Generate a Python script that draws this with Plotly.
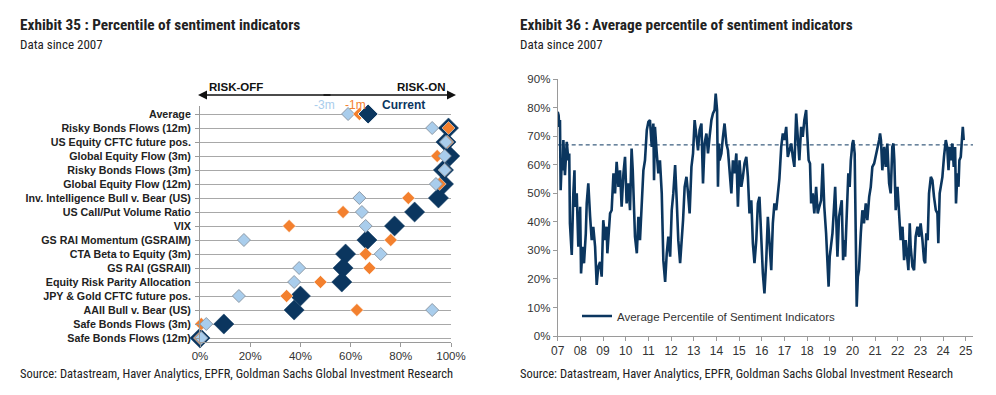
import plotly.graph_objects as go

W, H = 996, 395


def px(x):
    return x / W


def py(y):
    return 1 - y / H


# ---------------- Exhibit 35 data ----------------
categories = [
    "Average",
    "Risky Bonds Flows (12m)",
    "US Equity CFTC future pos.",
    "Global Equity Flow (3m)",
    "Risky Bonds Flows (3m)",
    "Global Equity Flow (12m)",
    "Inv. Intelligence Bull v. Bear (US)",
    "US Call/Put Volume Ratio",
    "VIX",
    "GS RAI Momentum (GSRAIM)",
    "CTA Beta to Equity (3m)",
    "GS RAI (GSRAII)",
    "Equity Risk Parity Allocation",
    "JPY & Gold CFTC future pos.",
    "AAII Bull v. Bear (US)",
    "Safe Bonds Flows (3m)",
    "Safe Bonds Flows (12m)",
]
current = [67, 99, 98, 99.5, 97, 97, 95, 85.5, 77.5, 66.5, 58, 57, 56.5, 40, 37.5, 9.5, 0]
minus_1m = [63.5, 99, 98.5, 94.5, 97.5, 95.5, 83, 57, 35.5, 76, 66, 67.5, 48, 34.5, 62.5, 0.5, 0]
minus_3m = [59, 92.5, 98, 97.5, 97.5, 94, 63.5, 64.5, 66, 17.5, 72, 39.5, 37.5, 15.5, 92.5, 2.5, 0.5]
x_ticks_35 = [0, 20, 40, 60, 80, 100]
x_ticktext_35 = ["0%", "20%", "40%", "60%", "80%", "100%"]

# ---------------- Exhibit 36 data ----------------
years = [
    2007.00, 2007.04, 2007.07, 2007.10, 2007.13, 2007.18, 2007.22, 2007.25, 2007.32, 2007.40,
    2007.47, 2007.51, 2007.54, 2007.62, 2007.69, 2007.74, 2007.76, 2007.84, 2007.91, 2007.99,
    2008.03, 2008.10, 2008.16, 2008.24, 2008.28, 2008.35, 2008.43, 2008.50, 2008.57, 2008.65,
    2008.72, 2008.79, 2008.87, 2008.94, 2009.01, 2009.09, 2009.16, 2009.19, 2009.31, 2009.38,
    2009.46, 2009.53, 2009.60, 2009.68, 2009.75, 2009.82, 2009.90, 2009.97, 2010.04, 2010.12,
    2010.19, 2010.26, 2010.31, 2010.37, 2010.41, 2010.49, 2010.56, 2010.63, 2010.71, 2010.78,
    2010.85, 2010.93, 2011.00, 2011.07, 2011.15, 2011.22, 2011.25, 2011.29, 2011.37, 2011.44,
    2011.51, 2011.59, 2011.66, 2011.74, 2011.81, 2011.88, 2011.96, 2012.03, 2012.10, 2012.18,
    2012.25, 2012.32, 2012.40, 2012.46, 2012.53, 2012.60, 2012.68, 2012.75, 2012.82, 2012.90,
    2012.97, 2013.04, 2013.12, 2013.19, 2013.26, 2013.34, 2013.41, 2013.48, 2013.56, 2013.63,
    2013.70, 2013.78, 2013.85, 2013.92, 2013.97, 2014.03, 2014.07, 2014.11, 2014.14, 2014.22,
    2014.29, 2014.36, 2014.44, 2014.51, 2014.58, 2014.66, 2014.73, 2014.80, 2014.88, 2014.95,
    2015.02, 2015.10, 2015.17, 2015.24, 2015.32, 2015.39, 2015.46, 2015.54, 2015.61, 2015.68,
    2015.76, 2015.83, 2015.90, 2015.98, 2016.05, 2016.12, 2016.20, 2016.27, 2016.34, 2016.42,
    2016.49, 2016.56, 2016.64, 2016.71, 2016.78, 2016.86, 2016.93, 2017.00, 2017.08, 2017.15,
    2017.22, 2017.30, 2017.37, 2017.44, 2017.52, 2017.59, 2017.66, 2017.74, 2017.81, 2017.88,
    2017.96, 2017.99, 2018.07, 2018.13, 2018.18, 2018.25, 2018.32, 2018.40, 2018.47, 2018.54,
    2018.62, 2018.69, 2018.76, 2018.84, 2018.91, 2018.95, 2019.00, 2019.04, 2019.12, 2019.19,
    2019.24, 2019.29, 2019.34, 2019.41, 2019.49, 2019.53, 2019.59, 2019.63, 2019.68, 2019.74,
    2019.78, 2019.82, 2019.88, 2019.93, 2020.00, 2020.04, 2020.10, 2020.15, 2020.19, 2020.24,
    2020.29, 2020.37, 2020.44, 2020.51, 2020.59, 2020.66, 2020.74, 2020.81, 2020.88, 2020.96,
    2021.03, 2021.10, 2021.18, 2021.22, 2021.26, 2021.32, 2021.40, 2021.47, 2021.54, 2021.62,
    2021.69, 2021.76, 2021.81, 2021.85, 2021.91, 2021.99, 2022.06, 2022.13, 2022.21, 2022.28,
    2022.35, 2022.43, 2022.47, 2022.53, 2022.57, 2022.65, 2022.72, 2022.79, 2022.87, 2022.94,
    2023.01, 2023.09, 2023.16, 2023.21, 2023.26, 2023.32, 2023.38, 2023.46, 2023.53, 2023.60,
    2023.68, 2023.75, 2023.79, 2023.85, 2023.91, 2023.97, 2024.04, 2024.12, 2024.18, 2024.24,
    2024.29, 2024.34, 2024.41, 2024.47, 2024.53, 2024.57, 2024.63, 2024.68, 2024.72, 2024.78,
    2024.82, 2024.87, 2024.91,
]
avg_pct = [
    78.6, 77.4, 73.3, 75.7, 51.1, 61.6, 58.1, 68.7, 56.4, 68.1,
    61.6, 64.0, 39.5, 28.4, 50.0, 58.1, 45.3, 50.0, 31.3, 45.3,
    21.9, 31.3, 25.5, 36.0, 46.5, 53.5, 41.8, 33.6, 38.3, 31.3,
    17.9, 24.3, 26.0, 20.8, 40.6, 33.6, 38.3, 29.0, 43.0, 44.1,
    57.0, 50.0, 61.1, 52.3, 58.1, 45.3, 57.0, 62.8, 46.5, 53.5,
    44.1, 65.7, 58.1, 40.6, 34.8, 29.0, 41.8, 33.6, 50.0, 58.1,
    61.6, 72.2, 75.1, 75.7, 66.3, 74.5, 54.6, 73.3, 64.0, 57.0,
    61.6, 50.0, 26.6, 19.0, 29.0, 34.8, 27.8, 44.1, 50.0, 59.9,
    47.6, 33.6, 25.5, 31.3, 40.6, 52.3, 55.8, 50.0, 43.0, 59.3,
    64.0, 75.7, 69.8, 65.1, 72.2, 74.5, 53.5, 67.5, 71.0, 64.0,
    69.8, 75.7, 78.0, 79.2, 85.0, 79.2, 52.3, 67.5, 61.6, 64.0,
    69.8, 74.5, 67.5, 65.1, 58.1, 50.0, 61.6, 57.0, 64.0, 45.3,
    61.6, 52.3, 55.8, 60.5, 62.8, 55.8, 43.0, 47.6, 32.5, 25.5,
    33.6, 46.5, 48.8, 33.6, 21.9, 14.9, 26.6, 41.8, 31.3, 23.1,
    39.5, 46.5, 44.1, 48.8, 55.2, 66.3, 71.0, 68.7, 73.3, 62.8,
    65.1, 67.5, 62.8, 59.3, 78.0, 68.7, 61.6, 73.3, 69.8, 75.7,
    79.2, 73.3, 61.6, 60.5, 46.5, 50.0, 43.0, 52.3, 43.0, 45.3,
    47.6, 60.5, 45.3, 36.0, 24.3, 17.3, 27.8, 31.3, 36.0, 45.3,
    52.3, 40.6, 27.8, 41.8, 45.3, 47.6, 26.6, 33.6, 27.8, 44.1,
    52.3, 57.0, 52.3, 61.6, 67.5, 68.7, 64.0, 26.6, 10.3, 20.8,
    23.1, 36.0, 44.1, 39.5, 46.5, 40.6, 48.8, 52.3, 59.3, 60.5,
    62.8, 65.1, 68.7, 71.0, 68.7, 58.1, 66.3, 59.3, 67.5, 53.5,
    50.0, 66.3, 67.5, 61.6, 44.1, 52.3, 43.0, 33.6, 38.3, 26.6,
    33.6, 25.5, 23.1, 39.5, 31.3, 24.3, 23.1, 34.8, 38.3, 34.8,
    39.5, 33.6, 26.6, 25.5, 36.0, 33.6, 50.0, 55.8, 54.6, 48.8,
    44.1, 43.0, 32.5, 50.0, 53.5, 55.8, 62.8, 68.7, 66.3, 58.1,
    66.3, 61.6, 67.5, 59.3, 66.3, 46.5, 57.0, 52.3, 61.6, 62.8,
    67.5, 73.3, 68.7,
]
threshold = 67
year_ticks = list(range(2007, 2026))
year_ticktext = ["%02d" % (y % 100) for y in year_ticks]
pct_ticks = list(range(0, 91, 10))
pct_ticktext = ["%d%%" % v for v in pct_ticks]

# ---------------- styles ----------------
NAVY = "#0b365f"
ORANGE = "#f3802e"
LIGHT = "#a9cdec"
LIGHT_EDGE = "#8f9ba8"
AXIS = "#9a9a9a"
GRID = "#a8a8a8"
TXT = "#222222"
NARROW = "Liberation Sans Narrow, Roboto Condensed, DejaVu Sans Condensed, Liberation Sans, sans-serif"
ARIAL = "Liberation Sans, Arial, sans-serif"

fig = go.Figure()

rows = list(range(len(categories)))
ind = rows[1:]


def diamonds(xs, ys, size, color, edge, edge_w):
    fig.add_trace(go.Scatter(
        x=xs, y=ys, mode="markers", xaxis="x", yaxis="y", showlegend=False, cliponaxis=False,
        marker=dict(symbol="diamond", size=size, color=color, line=dict(color=edge, width=edge_w)),
        hoverinfo="skip"))


# indicator rows: current first, then -1m, then -3m on top
diamonds(current[1:], ind, 15.5, NAVY, NAVY, 0.5)
diamonds(minus_1m[1:], ind, 10, ORANGE, "white", 0.5)
diamonds(minus_3m[1:], ind, 10, LIGHT, LIGHT_EDGE, 1)
# average row: -3m, -1m, current on top
diamonds([minus_3m[0]], [0], 10, LIGHT, LIGHT_EDGE, 1)
diamonds([minus_1m[0]], [0], 10, ORANGE, "white", 0.5)
diamonds([current[0]], [0], 15.5, NAVY, "white", 1)

# Exhibit 36
fig.add_trace(go.Scatter(
    x=[year_ticks[0], 2025.32], y=[threshold, threshold], mode="lines", xaxis="x2", yaxis="y2",
    showlegend=False, line=dict(color=NAVY, width=1, dash="4px,3px"), hoverinfo="skip"))
fig.add_trace(go.Scatter(
    x=years, y=avg_pct, mode="lines", xaxis="x2", yaxis="y2",
    name="Average Percentile of Sentiment Indicators",
    line=dict(color=NAVY, width=2.6), hoverinfo="skip"))

fig.update_layout(
    width=W, height=H, autosize=False,
    margin=dict(l=0, r=0, t=0, b=0, pad=0),
    paper_bgcolor="white", plot_bgcolor="white",
    xaxis=dict(
        domain=[px(200), px(451)], range=[0, 100], anchor="y", automargin=False,
        tickvals=x_ticks_35, ticktext=x_ticktext_35,
        showline=True, linecolor=AXIS, linewidth=1, ticks="outside", ticklen=4, tickcolor=AXIS,
        showgrid=False, zeroline=False,
        tickfont=dict(family=ARIAL, size=11.5, color="#333333"),
    ),
    yaxis=dict(
        domain=[py(341.5), py(106.3)], range=[16.25, -0.55], anchor="x", automargin=False,
        tickvals=rows, ticktext=categories,
        showline=True, linecolor=AXIS, linewidth=1, ticks="outside", ticklen=4, tickcolor=AXIS,
        showgrid=True, gridcolor=GRID, gridwidth=1, zeroline=False,
        tickfont=dict(family=ARIAL, size=10.7, color=TXT, weight="bold"),
        ticklabelstandoff=2,
    ),
    xaxis2=dict(
        domain=[px(557.7), px(973)], range=[2007, 2025.32], anchor="y2", automargin=False,
        tickvals=year_ticks, ticktext=year_ticktext,
        showline=True, linecolor=AXIS, linewidth=1, ticks="outside", ticklen=4, tickcolor=AXIS,
        showgrid=False, zeroline=False,
        tickfont=dict(family=ARIAL, size=12, color="#333333"),
    ),
    yaxis2=dict(
        domain=[py(336), py(79.3)], range=[0, 90], anchor="x2", automargin=False,
        tickvals=pct_ticks, ticktext=pct_ticktext,
        showline=True, linecolor=AXIS, linewidth=1, ticks="outside", ticklen=4, tickcolor=AXIS,
        showgrid=False, zeroline=False,
        tickfont=dict(family=ARIAL, size=11.5, color="#333333"),
    ),
    legend=dict(
        x=px(577), y=py(316), xanchor="left", yanchor="middle",
        bgcolor="rgba(255,255,255,0)", borderwidth=0,
        font=dict(family=ARIAL, size=11.5, color="#333333"),
    ),
)

annotations = []


def txt(x, y, s, size, color=TXT, bold=False, family=NARROW, xanchor="left"):
    annotations.append(dict(
        x=px(x), y=py(y), xref="paper", yref="paper", text=("<b>%s</b>" % s) if bold else s,
        showarrow=False, xanchor=xanchor, yanchor="middle",
        font=dict(family=family, size=size, color=color)))


txt(18, 25, "Exhibit 35 : Percentile of sentiment indicators", 15.3, bold=True)
txt(18, 44, "Data since 2007", 13)
txt(18, 373, "Source: Datastream, Haver Analytics, EPFR, Goldman Sachs Global Investment Research", 12.5)
txt(518, 25, "Exhibit 36 : Average percentile of sentiment indicators", 15.3, bold=True)
txt(518, 44, "Data since 2007", 13)
txt(518, 373, "Source: Datastream, Haver Analytics, EPFR, Goldman Sachs Global Investment Research", 12.5)

txt(207, 87, "RISK-OFF", 11.5, color="#111111", bold=True, family=ARIAL)
txt(448, 87, "RISK-ON", 11.5, color="#111111", bold=True, family=ARIAL, xanchor="right")
txt(312, 105, "-3m", 12, color=LIGHT, family=ARIAL)
txt(343, 105, "-1m", 12, color=ORANGE, family=ARIAL)
txt(380, 105, "Current", 12, color=NAVY, bold=True, family=ARIAL)

# double-headed arrow (tail offsets in pixels)
for head, tail in ((198, 332), (456, 322)):
    annotations.append(dict(
        x=px(head), y=py(95), xref="paper", yref="paper",
        ax=tail - head, ay=0, axref="pixel", ayref="pixel",
        text="", showarrow=True, arrowhead=2, arrowsize=1.2, arrowwidth=1.5, arrowcolor="#111111"))

fig.update_layout(annotations=annotations)

fig.write_html(
    "out.html",
    config={"displayModeBar": False},
    post_script="document.body.style.margin='0';document.body.style.overflow='hidden';",
)
